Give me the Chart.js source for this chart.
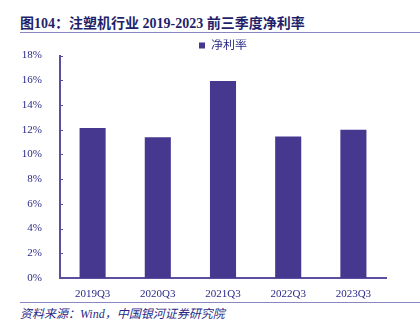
<!DOCTYPE html>
<html>
<head>
<meta charset="utf-8">
<script src="https://cdn.jsdelivr.net/npm/chart.js@4/dist/chart.umd.min.js"></script>
<style>
  body { margin: 0; background: #fff; }
  #wrap { position: relative; width: 420px; height: 336px; overflow: hidden; }
  #title {
    position: absolute; left: 20px; top: 12px;
    font: bold 14px "Liberation Serif", "Noto Sans CJK SC", serif;
    color: #1f1f6b; white-space: nowrap;
  }
  .rule { position: absolute; left: 20px; right: 0; height: 1px; background: #8a86c0; }
  #source {
    position: absolute; left: 20px; top: 304px;
    font: italic 12px "Liberation Serif", "Noto Sans CJK SC", serif;
    color: #2a2a86; white-space: nowrap;
  }
  #chart-box { position: absolute; left: 0; top: 39px; width: 420px; height: 261px; }
</style>
</head>
<body>
<div id="wrap">
  <div id="title">图104：注塑机行业 2019-2023 前三季度净利率</div>
  <div class="rule" style="top:32px"></div>
  <div id="chart-box"><canvas id="margin-chart"></canvas></div>
  <div class="rule" style="top:302px"></div>
  <div id="source">资料来源：Wind，中国银河证券研究院</div>
</div>
<script>
// Data
let categories = ['2019Q3', '2020Q3', '2021Q3', '2022Q3', '2023Q3'];
let netMargin = [12.15, 11.4, 15.95, 11.45, 12.0];
let seriesName = '净利率';
let yTicks = [0, 2, 4, 6, 8, 10, 12, 14, 16, 18];

let barColor = '#46378f';
let axisColor = '#5b4fa0';
let textColor = '#2a2a86';

// small inward tick marks on the y axis
const innerTicks = {
    id: 'innerTicks',
    afterDraw(chart) {
        let y = chart.scales.y;
        let ctx = chart.ctx;
        ctx.save();
        ctx.strokeStyle = axisColor;
        ctx.lineWidth = 1;
        yTicks.forEach(function (v) {
            let py = Math.round(y.getPixelForValue(v)) + 0.5;
            ctx.beginPath();
            ctx.moveTo(y.right, py);
            ctx.lineTo(y.right + 3, py);
            ctx.stroke();
        });
        ctx.restore();
    }
};

const data = {
    labels: categories,
    datasets: [{
        label: seriesName,
        data: netMargin,
        backgroundColor: barColor,
        categoryPercentage: 1,
        barPercentage: 0.4
    }]
};

var ctx = document.getElementById('margin-chart').getContext('2d');
var marginChart = new Chart(ctx, {
    type: 'bar',
    data,
    options: {
        responsive: true,
        maintainAspectRatio: false,
        animation: false,
        layout: { padding: { left: 0, right: 34, top: 0, bottom: 0 } },
        plugins: {
            legend: {
                fullSize: false,
                maxHeight: 16,
                labels: {
                    boxWidth: 6,
                    boxHeight: 6,
                    padding: 0,
                    color: textColor,
                    font: { family: '"Liberation Serif", "Noto Sans CJK SC", serif', size: 12 }
                }
            },
            tooltip: { enabled: false }
        },
        scales: {
            x: {
                grid: { display: false },
                border: { color: axisColor, width: 2 },
                afterFit(scale) { scale.height = 22; },
                ticks: {
                    color: textColor,
                    padding: 2,
                    maxRotation: 0,
                    font: { family: '"Liberation Serif", serif', size: 11 }
                }
            },
            y: {
                min: 0,
                max: 18,
                afterFit(scale) { scale.width = 60; },
                afterBuildTicks(scale) { scale.ticks = yTicks.map(v => ({ value: v })); },
                grid: { display: false },
                border: { color: axisColor, width: 2 },
                ticks: {
                    color: textColor,
                    padding: 10,
                    font: { family: '"Liberation Serif", serif', size: 11 },
                    callback: v => v + '%'
                }
            }
        }
    },
    plugins: [innerTicks]
});
</script>
</body>
</html>
